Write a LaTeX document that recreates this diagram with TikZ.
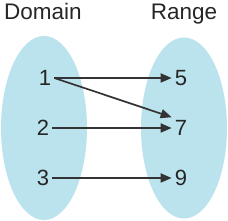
\documentclass[tikz,border=0pt]{standalone}
\usepackage{fontspec}
\setmainfont{Liberation Sans}
\usepackage{xcolor}
\definecolor{mapset}{HTML}{BAE3EE}
\definecolor{maparrow}{HTML}{333333}
\usetikzlibrary{arrows.meta,positioning,shapes.geometric}
\tikzset{
  mapblob/.style={ellipse,fill=mapset,draw=none,minimum width=86pt,minimum height=184pt,inner sep=0pt},
  mapnum/.style={font=\fontsize{22}{26}\selectfont,text=black!85,inner sep=3pt},
  maphead/.style={font=\fontsize{22.5}{26}\selectfont,text=black!85,inner sep=0pt,anchor=base},
  mapflow/.style={-{Triangle[length=11pt,width=9pt]},line width=1.7pt,draw=maparrow},
}

\begin{document}
\begin{tikzpicture}[x=1pt,y=-1pt]
\useasboundingbox (0,0) rectangle (228,221);
\node[mapblob](dom) at (44,128){};
\node[mapblob,minimum height=181pt](rng) at (184,128){};
\node[maphead](dh) at (43,20){Domain};
\node[maphead](rh) at (184,20){Range};
\node[mapnum](d1) at (45,78){1};
\node[mapnum](d2) at (43,128){2};
\node[mapnum](d3) at (43,178){3};
\node[mapnum](r5) at (181,78){5};
\node[mapnum](r7) at (181,128){7};
\node[mapnum](r9) at (181,178){9};
\draw[mapflow](d1.east)--(r5.west);
\draw[mapflow](d1.east)--(r7.north west);
\draw[mapflow](d2.east)--(r7.west);
\draw[mapflow](d3.east)--(r9.west);
\end{tikzpicture}
\end{document}
